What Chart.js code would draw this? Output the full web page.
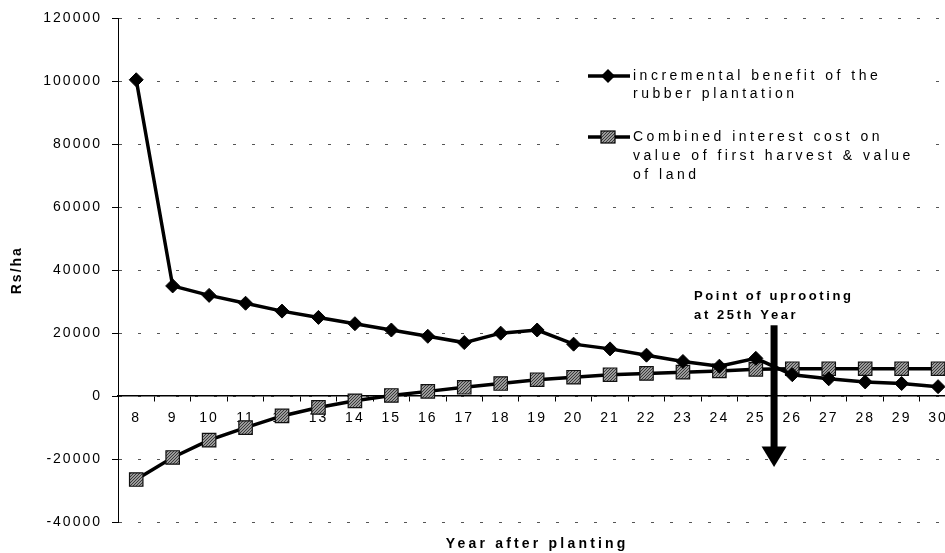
<!DOCTYPE html>
<html><head><meta charset="utf-8">
<script src="https://cdn.jsdelivr.net/npm/chart.js@4"></script>
<style>
html,body{margin:0;padding:0;background:#fff;overflow:hidden;width:945px;height:553px}
#wrap{width:967px;height:553px;position:relative}
</style>
</head><body><div id="wrap"><canvas id="c" width="967" height="553"></canvas></div>
<script>
const years = ['8','9','10','11','12','13','14','15','16','17','18','19','20','21','22','23','24','25','26','27','28','29','30'];
const incrementalBenefit = [100500, 35000, 32000, 29500, 27000, 25000, 23000, 21000, 19000, 17000, 20000, 21000, 16500, 15000, 13000, 11000, 9500, 12000, 6800, 5500, 4500, 4000, 3000];
const interestCost = [-26500, -19500, -14000, -10000, -6300, -3600, -1500, 200, 1500, 2800, 4000, 5200, 6000, 6800, 7200, 7600, 8000, 8500, 8700, 8700, 8700, 8700, 8700];
const yTicks = [-40000, -20000, 0, 20000, 40000, 60000, 80000, 100000, 120000];
const seriesLabels = [
  ['incremental benefit of the', 'rubber plantation'],
  ['Combined interest cost on', 'value of first harvest & value', 'of land']
];
const annotationText = ['Point of uprooting', 'at 25th Year'];
const uprootIndex = 17.5;           // between year 25 and 26
const arrowTopValue = 22500;
const arrowHeadValue = -16000;
const arrowTipValue = -22500;
const xTitle = 'Year after planting';
const yTitle = 'Rs/ha';

const FONT = "'Liberation Sans', Arial, Helvetica, sans-serif";

// grey speckled pattern for the square markers
function makePattern() {
  const p = document.createElement('canvas');
  p.width = 3; p.height = 3;
  const g = p.getContext('2d');
  g.fillStyle = '#9a9a9a'; g.fillRect(0, 0, 3, 3);
  g.fillStyle = '#3a3a3a'; g.fillRect(0, 0, 1, 1); g.fillRect(2, 1, 1, 1); g.fillRect(1, 2, 1, 1);
  return g.createPattern(p, 'repeat');
}
const squareFill = makePattern();

function spacedText(ctx, txt, x, y, spacing) {
  ctx.letterSpacing = spacing + 'px';
  ctx.fillText(txt, x, y);
}

const overlay = {
  id: 'overlay',
  beforeLayout(chart) { chart.ctx.letterSpacing = '2px'; },
  beforeDraw(chart) { chart.ctx.letterSpacing = '2px'; },
  afterDatasetsDraw(chart) {
    const { ctx, scales: { x, y } } = chart;
    ctx.save();
    // uprooting arrow
    const ax = x.getPixelForValue(uprootIndex);
    const top = y.getPixelForValue(arrowTopValue);
    const head = y.getPixelForValue(arrowHeadValue);
    const tip = y.getPixelForValue(arrowTipValue);
    ctx.fillStyle = '#000';
    ctx.fillRect(ax - 3.5, top, 7, head - top + 1);
    ctx.beginPath();
    ctx.moveTo(ax - 12.5, head);
    ctx.lineTo(ax + 12.5, head);
    ctx.lineTo(ax, tip);
    ctx.closePath();
    ctx.fill();
    ctx.font = 'bold 13px ' + FONT;
    ctx.textAlign = 'left';
    ctx.textBaseline = 'middle';
    spacedText(ctx, annotationText[0], ax - 80, top - 29, 2.6);
    spacedText(ctx, annotationText[1], ax - 80, top - 10, 2.6);
    ctx.restore();
  },
  afterDraw(chart) {
    const { ctx, chartArea } = chart;
    ctx.save();
    // legend box (white, borderless)
    ctx.fillStyle = '#fff';
    ctx.fillRect(575, 45, 360, 150);
    ctx.strokeStyle = '#000';
    ctx.lineWidth = 3.5;
    // entry 1
    ctx.beginPath(); ctx.moveTo(588, 76); ctx.lineTo(630, 76); ctx.stroke();
    ctx.fillStyle = '#000';
    ctx.beginPath();
    ctx.moveTo(608, 69); ctx.lineTo(615, 76); ctx.lineTo(608, 83); ctx.lineTo(601, 76); ctx.closePath();
    ctx.fill();
    // entry 2
    ctx.beginPath(); ctx.moveTo(588, 137); ctx.lineTo(630, 137); ctx.stroke();
    ctx.fillStyle = squareFill;
    ctx.fillRect(601, 131, 14, 12);
    ctx.lineWidth = 1.2;
    ctx.strokeRect(601, 131, 14, 12);
    ctx.fillStyle = '#000';
    ctx.font = '14px ' + FONT;
    ctx.textAlign = 'left';
    ctx.textBaseline = 'middle';
    spacedText(ctx, seriesLabels[0][0], 633, 76, 3.5);
    spacedText(ctx, seriesLabels[0][1], 633, 94, 3.5);
    spacedText(ctx, seriesLabels[1][0], 633, 137, 3.5);
    spacedText(ctx, seriesLabels[1][1], 633, 156, 3.5);
    spacedText(ctx, seriesLabels[1][2], 633, 175, 3.5);
    // x axis title
    ctx.font = 'bold 14px ' + FONT;
    ctx.textAlign = 'center';
    spacedText(ctx, xTitle, (chartArea.left + chartArea.right) / 2, 544, 3.2);
    ctx.restore();
    ctx.letterSpacing = '2px';
  }
};

Chart.defaults.font.family = FONT;
Chart.defaults.color = '#000';

new Chart(document.getElementById('c'), {
  type: 'line',
  data: {
    labels: years,
    datasets: [
      {
        label: seriesLabels[0].join(' '),
        data: incrementalBenefit,
        borderColor: '#000',
        backgroundColor: '#000',
        borderWidth: 3.5,
        pointStyle: 'rectRot',
        pointRadius: 7,
        pointBorderWidth: 1,
        pointBorderColor: '#000',
        pointBackgroundColor: '#000',
        tension: 0,
        fill: false
      },
      {
        label: seriesLabels[1].join(' '),
        data: interestCost,
        borderColor: '#000',
        backgroundColor: squareFill,
        borderWidth: 3.5,
        pointStyle: 'rect',
        pointRadius: 9.5,
        pointBorderWidth: 1.2,
        pointBorderColor: '#111',
        pointBackgroundColor: squareFill,
        tension: 0,
        fill: false
      }
    ]
  },
  options: {
    responsive: false,
    animation: false,
    devicePixelRatio: 1,
    layout: { padding: { top: 17, bottom: 31, right: 4, left: 0 } },
    plugins: { legend: { display: false }, tooltip: { enabled: false } },
    scales: {
      x: {
        type: 'category',
        position: { y: 0 },
        offset: true,
        grid: { offset: true, drawOnChartArea: false, drawTicks: true, tickLength: 5, tickColor: '#000' },
        border: { display: true, color: '#000', width: 1.5 },
        ticks: { font: { size: 14 }, padding: 9, maxRotation: 0, autoSkip: false, color: '#000' }
      },
      y: {
        min: -40000,
        max: 120000,
        afterBuildTicks: s => { s.ticks = yTicks.map(v => ({ value: v })); },
        afterFit: s => { s.width = 118; },
        grid: { color: '#555', lineWidth: 1, drawTicks: true, tickLength: 6, tickColor: '#000' },
        border: { display: true, color: '#000', width: 1, dash: [3, 16] },
        ticks: { font: { size: 14 }, padding: 10, color: '#000', callback: v => String(v) },
        title: { display: true, text: yTitle, font: { size: 14, weight: 'bold' }, padding: { top: 9, bottom: 0 }, color: '#000' }
      }
    }
  },
  plugins: [overlay]
});
</script>
</body></html>
